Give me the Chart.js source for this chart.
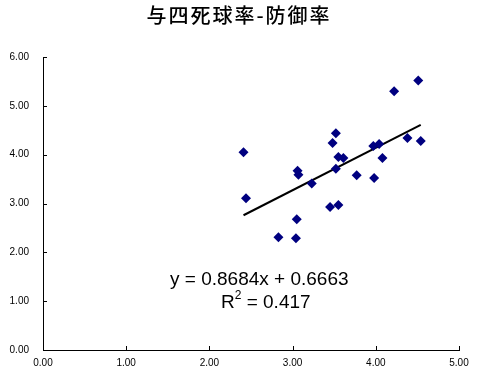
<!DOCTYPE html>
<html>
<head>
<meta charset="utf-8">
<script src="https://cdn.jsdelivr.net/npm/chart.js@4"></script>
<style>
  html, body { margin: 0; padding: 0; background: #fff; }
  #wrap { width: 485px; height: 386px; }
</style>
</head>
<body>
<div id="wrap"><canvas id="grafica"></canvas></div>
<script>
// datos
const tituloGrafica = '与四死球率-防御率';
const yonshikyu = [2.41, 2.44, 2.83, 3.05, 3.04, 3.06, 3.07, 3.23, 3.45, 3.55, 3.48, 3.52,
                   3.55, 3.61, 3.52, 3.77, 3.98, 3.97, 4.04, 4.08, 4.22, 4.51, 4.38, 4.54];
const bogyoritsu = [4.05, 3.11, 2.31, 2.68, 2.29, 3.67, 3.59, 3.41, 2.93, 2.97, 4.24, 4.44,
                    3.95, 3.93, 3.71, 3.58, 3.52, 4.18, 4.22, 3.93, 5.30, 5.52, 4.34, 4.28];
const pendiente = 0.8684;
const intercepto = 0.6663;
const r2 = 0.417;
const ticksX = [0, 1, 2, 3, 4, 5];
const ticksY = [0, 1, 2, 3, 4, 5, 6];

const puntos = yonshikyu.map((x, i) => ({ x: x, y: bogyoritsu[i] }));
const xMin = Math.min(...yonshikyu);
const xMax = Math.max(...yonshikyu);
const tendencia = [
  { x: xMin, y: pendiente * xMin + intercepto },
  { x: xMax, y: pendiente * xMax + intercepto }
];

// marcas de eje hacia dentro, título y ecuación
const extras = {
  id: 'extras',
  afterDraw(chart) {
    const c = chart.ctx;
    const sx = chart.scales.x, sy = chart.scales.y;
    c.save();
    c.strokeStyle = '#000';
    c.lineWidth = 1;
    c.beginPath();
    ticksX.forEach(v => {
      const px = Math.round(sx.getPixelForValue(v)) + 0.5;
      c.moveTo(px, sy.bottom);
      c.lineTo(px, sy.bottom - 4);
    });
    ticksY.forEach(v => {
      const py = Math.round(sy.getPixelForValue(v)) + 0.5;
      c.moveTo(sx.left, py);
      c.lineTo(sx.left + 4, py);
    });
    c.stroke();

    c.fillStyle = '#000';
    c.textAlign = 'center';
    c.textBaseline = 'middle';
    c.font = '500 20px "Noto Sans CJK JP"';
    c.letterSpacing = '2px';
    c.fillText(tituloGrafica, 239, 15);
    c.letterSpacing = '0px';

    c.font = '19px "Liberation Sans", Arial, sans-serif';
    c.textBaseline = 'alphabetic';
    c.textAlign = 'left';
    c.fillText('y = ' + pendiente.toFixed(4) + 'x + ' + intercepto.toFixed(4), 170, 285);
    c.fillText('R', 221, 308);
    const wR = c.measureText('R').width;
    c.font = '12px "Liberation Sans", Arial, sans-serif';
    c.fillText('2', 221 + wR, 299);
    const w2 = c.measureText('2').width;
    c.font = '19px "Liberation Sans", Arial, sans-serif';
    c.fillText(' = ' + r2, 221 + wR + w2, 308);
    c.restore();
  }
};

const fuenteEje = { family: '"Liberation Sans", Arial, sans-serif', size: 10 };

new Chart(document.getElementById('grafica'), {
  type: 'scatter',
  data: {
    datasets: [
      {
        label: 'datos',
        data: puntos,
        pointStyle: 'rectRot',
        pointRadius: 5,
        pointHoverRadius: 5,
        backgroundColor: '#000080',
        borderColor: '#000080',
        borderWidth: 0
      },
      {
        label: 'tendencia',
        type: 'line',
        data: tendencia,
        borderColor: '#000',
        borderWidth: 2,
        pointRadius: 0,
        fill: false
      }
    ]
  },
  options: {
    responsive: true,
    maintainAspectRatio: false,
    animation: false,
    layout: { padding: { top: 57, right: 26, left: 0, bottom: 0 } },
    plugins: { legend: { display: false }, title: { display: false }, tooltip: { enabled: false } },
    scales: {
      x: {
        type: 'linear', min: 0, max: 5,
        afterBuildTicks: s => { s.ticks = ticksX.map(v => ({ value: v })); },
        afterFit: s => { s.height = 36; },
        grid: { display: false, drawTicks: false },
        border: { display: true, color: '#000', width: 1 },
        ticks: { color: '#000', font: fuenteEje, padding: 7, maxRotation: 0,
                 callback: v => v.toFixed(2) }
      },
      y: {
        type: 'linear', min: 0, max: 6,
        afterBuildTicks: s => { s.ticks = ticksY.map(v => ({ value: v })); },
        afterFit: s => { s.width = 43; },
        grid: { display: false, drawTicks: false },
        border: { display: true, color: '#000', width: 1 },
        ticks: { color: '#000', font: fuenteEje, padding: 14,
                 callback: v => v.toFixed(2) }
      }
    }
  },
  plugins: [extras]
});
</script>
</body>
</html>
